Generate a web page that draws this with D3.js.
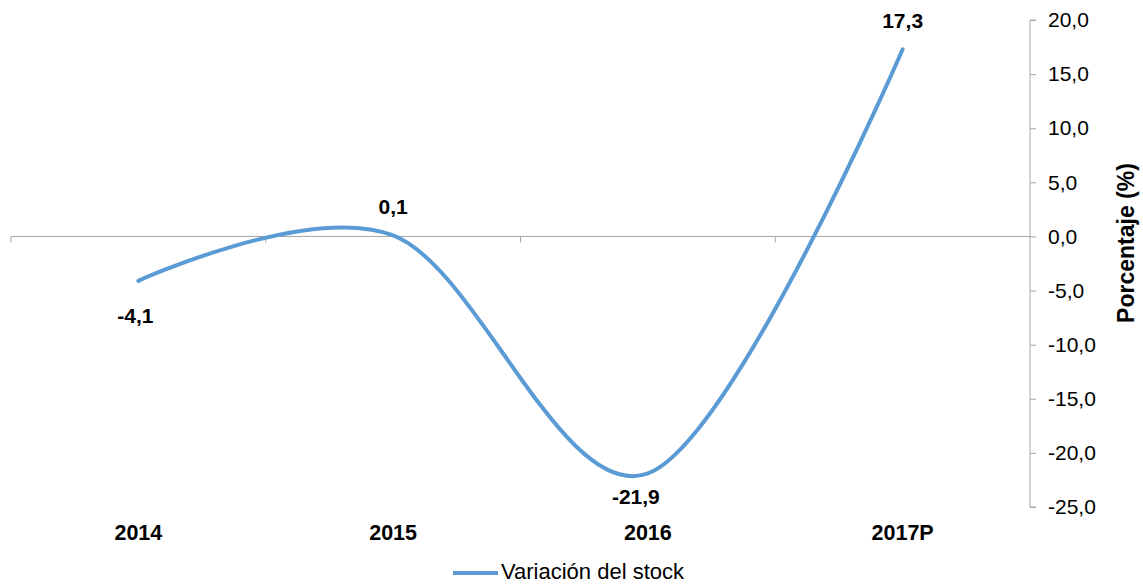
<!DOCTYPE html>
<html>
<head>
<meta charset="utf-8">
<script src="https://cdn.jsdelivr.net/npm/d3@7"></script>
<style>
  html, body { margin: 0; padding: 0; background: #ffffff; }
  svg { display: block; font-family: "Liberation Sans", Arial, sans-serif; }
</style>
</head>
<body>
<svg id="chart" width="1143" height="585"></svg>
<script>
const categories = ["2014", "2015", "2016", "2017P"];
const values = [-4.1, 0.1, -21.9, 17.3];
const seriesName = "Variación del stock";
const yTicks = [20, 15, 10, 5, 0, -5, -10, -15, -20, -25];
const yTitle = "Porcentaje (%)";

const fmt = v => d3.format(".1f")(v).replace(".", ",").replace("−", "-");

const svg = d3.select("#chart");
const blue = "#5B9BD5";
const axisGray = "#A6A6A6";

const x = d3.scaleBand().domain(categories).range([11, 1030]).paddingInner(0).paddingOuter(0);
const y = d3.scaleLinear().domain([-25, 20]).range([507, 20]);

// Category axis at y=0
const xAxisG = svg.append("g").attr("transform", `translate(0,${y(0)})`);
xAxisG.append("line")
  .attr("x1", x.range()[0]).attr("x2", x.range()[1])
  .attr("y1", 0).attr("y2", 0)
  .attr("stroke", axisGray).attr("stroke-width", 1);
const boundaries = categories.map(c => x(c));
xAxisG.selectAll("line.tick").data(boundaries).enter().append("line")
  .attr("class", "tick")
  .attr("x1", d => d).attr("x2", d => d)
  .attr("y1", 0).attr("y2", 6)
  .attr("stroke", axisGray).attr("stroke-width", 1);

// Category labels at bottom
svg.selectAll("text.xlab").data(categories).enter().append("text")
  .attr("class", "xlab")
  .attr("x", d => x(d) + x.bandwidth() / 2)
  .attr("y", 540)
  .attr("text-anchor", "middle")
  .attr("font-size", 21.5)
  .attr("font-weight", "bold")
  .attr("fill", "#000")
  .text(d => d);

// Right value axis
const yAxis = d3.axisRight(y).tickValues(yTicks).tickSize(6).tickPadding(12).tickFormat(fmt);
const yAxisG = svg.append("g").attr("transform", "translate(1030,0)").call(yAxis);
yAxisG.select(".domain").attr("stroke", axisGray).attr("d", `M6,${y(20)}H0V${y(-25)}H6`);
yAxisG.selectAll(".tick line").attr("stroke", axisGray);
yAxisG.selectAll(".tick text")
  .attr("font-size", 21)
  .attr("font-family", "Liberation Sans, Arial, sans-serif")
  .attr("fill", "#000");

// Axis title
svg.append("text")
  .attr("transform", `translate(1134,243) rotate(-90)`)
  .attr("text-anchor", "middle")
  .attr("font-size", 23)
  .attr("font-weight", "bold")
  .attr("fill", "#000")
  .text(yTitle);

// Smoothed line
const pts = categories.map((c, i) => ({ c, v: values[i] }));
const line = d3.line()
  .x(d => x(d.c) + x.bandwidth() / 2)
  .y(d => y(d.v))
  .curve(d3.curveCardinal.tension(0));
svg.append("path")
  .datum(pts)
  .attr("d", line)
  .attr("fill", "none")
  .attr("stroke", blue)
  .attr("stroke-width", 4)
  .attr("stroke-linecap", "round");

// Data labels
const labelDx = [-3, 0, -12, 0];
const labelDy = [42, -21, 31, -21];
svg.selectAll("text.dlab").data(pts).enter().append("text")
  .attr("class", "dlab")
  .attr("x", (d, i) => x(d.c) + x.bandwidth() / 2 + labelDx[i])
  .attr("y", (d, i) => y(d.v) + labelDy[i])
  .attr("text-anchor", "middle")
  .attr("font-size", 21)
  .attr("font-weight", "bold")
  .attr("fill", "#000")
  .text(d => fmt(d.v));

// Legend
const lg = svg.append("g");
lg.append("line")
  .attr("x1", 453).attr("x2", 498).attr("y1", 573).attr("y2", 573)
  .attr("stroke", blue).attr("stroke-width", 4);
lg.append("text")
  .attr("x", 501).attr("y", 579)
  .attr("font-size", 22)
  .attr("fill", "#000")
  .text(seriesName);
</script>
</body>
</html>
